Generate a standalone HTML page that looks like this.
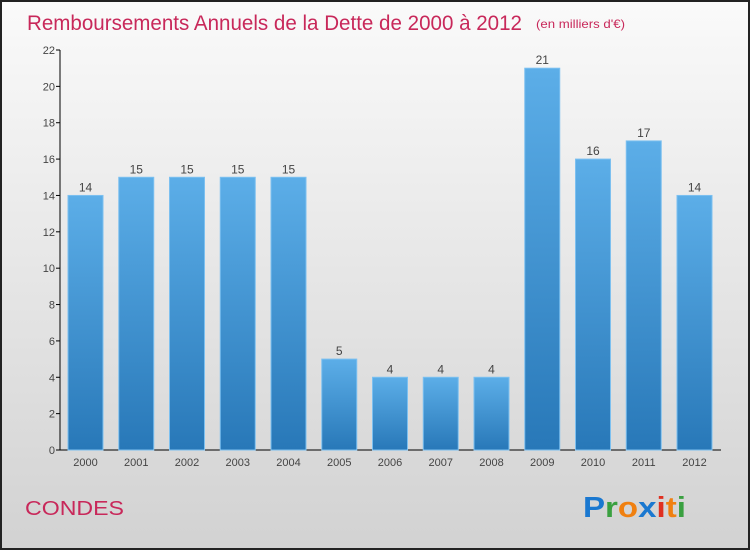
<!DOCTYPE html>
<html><head><meta charset="utf-8"><style>
body{margin:0;width:750px;height:550px;overflow:hidden;font-family:"Liberation Sans",sans-serif}
</style></head><body>
<svg width="750" height="550" xmlns="http://www.w3.org/2000/svg">
<defs>
<linearGradient id="bg" x1="0" y1="0" x2="0" y2="1"><stop offset="0" stop-color="#fafafa"/><stop offset="1" stop-color="#d2d2d2"/></linearGradient>
<linearGradient id="bar" x1="0" y1="0" x2="0" y2="1"><stop offset="0" stop-color="#5caee8"/><stop offset="1" stop-color="#2878b8"/></linearGradient>
</defs>
<rect x="1" y="1" width="748" height="548" fill="url(#bg)" stroke="#222" stroke-width="2"/>
<text x="27" y="30" font-size="21" fill="#c8285a" textLength="495" lengthAdjust="spacingAndGlyphs">Remboursements Annuels de la Dette de 2000 à 2012</text>
<text x="536" y="28" font-size="12" fill="#c8285a" textLength="89" lengthAdjust="spacingAndGlyphs">(en milliers d'€)</text>
<g id="plot"></g>
<text x="25" y="515" font-size="20" fill="#c8285a" textLength="99" lengthAdjust="spacingAndGlyphs">CONDES</text>
<g font-size="29" font-weight="bold" font-family="'Liberation Sans',sans-serif">
<text x="583" y="517" textLength="103" lengthAdjust="spacingAndGlyphs"><tspan fill="#1a78d0">P</tspan><tspan fill="#3aa040">r</tspan><tspan fill="#f08010">o</tspan><tspan fill="#1a78d0">x</tspan><tspan fill="#e03020">i</tspan><tspan fill="#f08010">t</tspan><tspan fill="#3aa040">i</tspan></text>
</g>
</svg>
<script>
const categories=["2000","2001","2002","2003","2004","2005","2006","2007","2008","2009","2010","2011","2012"];
const values=[14,15,15,15,15,5,4,4,4,21,16,17,14];
const yTicks=[0,2,4,6,8,10,12,14,16,18,20,22];
const NS="http://www.w3.org/2000/svg";
const g=document.getElementById('plot');
const y=v=>450-v*400/22;
const x=i=>68+i*50.75;
function el(t,a,txt){const e=document.createElementNS(NS,t);for(const k in a)e.setAttribute(k,a[k]);if(txt!=null)e.textContent=txt;g.appendChild(e);return e;}
let ax=el('line',{x1:60,y1:50,x2:60,y2:450,stroke:'#000'});


let xa=el('line',{x1:60,y1:450,x2:721,y2:450,stroke:'#000'});


yTicks.forEach(t=>{
 let l=el('line',{x1:56,y1:y(t),x2:60,y2:y(t),stroke:'#000'});
 
 
 let tx=el('text',{x:55,y:y(t)+4,'font-size':11,fill:'#444','text-anchor':'end'},t);
 
 
});
categories.forEach((c,i)=>{
 let r=el('rect',{x:x(i),y:y(values[i]),width:35,height:450-y(values[i]),fill:'url(#bar)',stroke:'#7cc0f0','stroke-width':1});
 
 
 let v=el('text',{x:x(i)+17.5,y:y(values[i])-4,'font-size':12,fill:'#444','text-anchor':'middle'},values[i]);
 
 
 let l=el('text',{x:x(i)+17.5,y:466,'font-size':11,fill:'#444','text-anchor':'middle'},c);
 
 
});
</script>
</body></html>
